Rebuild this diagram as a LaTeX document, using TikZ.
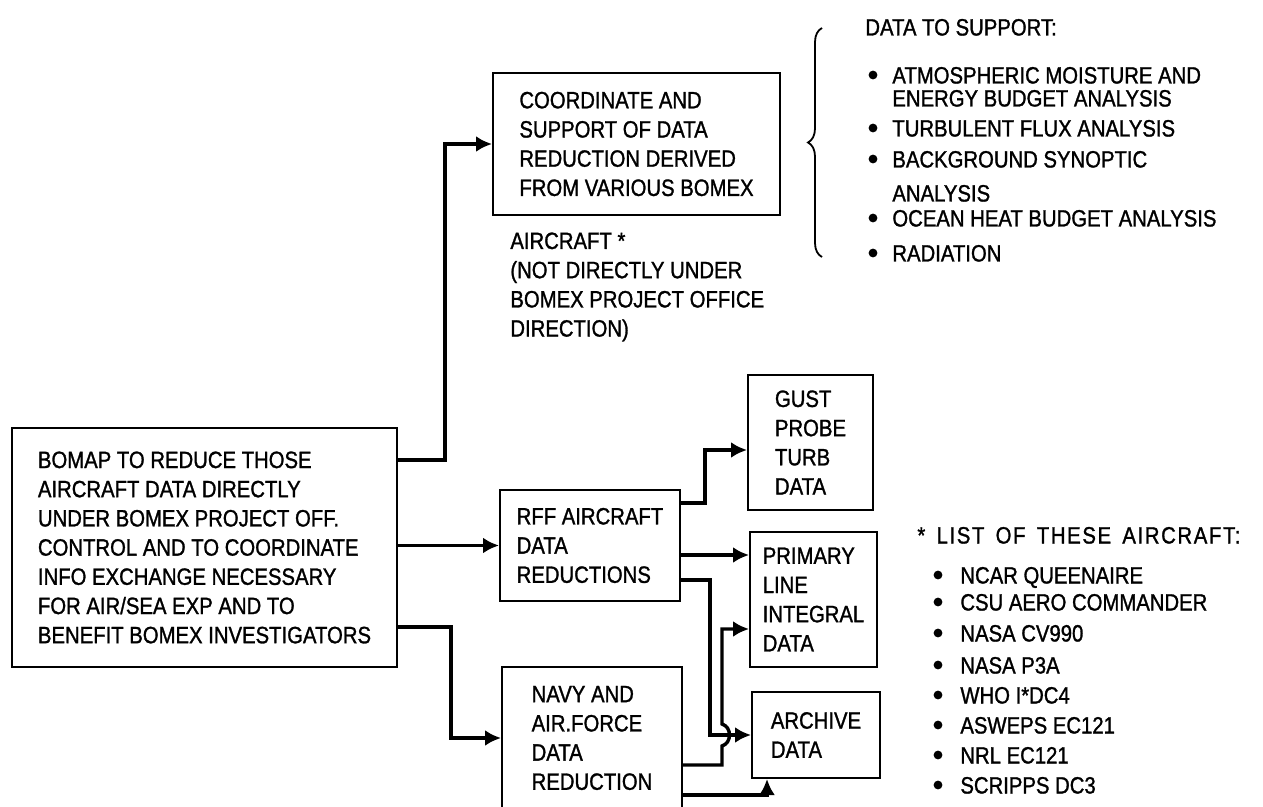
\documentclass[tikz,border=0pt]{standalone}
\usepackage{fontspec}
\setmainfont[FakeStretch=0.86, FakeBold=1.2]{Liberation Sans}
\usetikzlibrary{arrows.meta, decorations.pathreplacing}

\begin{document}
\begin{tikzpicture}[x=0.5pt, y=-0.5pt,
  every node/.style={font=\fontsize{11.8}{14.6}\selectfont, inner sep=0pt},
  blk/.style={draw, line width=1pt, align=left},
  boxsz/.style 2 args={minimum width={#1*0.5pt}, minimum height={#2*0.5pt}},
  lbl/.style={anchor=west, text height=8.5pt, text depth=0pt},
  arr/.style={line width=1.7pt, -{Latex[length=8pt,width=8pt]}}]

\useasboundingbox (0,0) rectangle (1263,807);

% --- Boxes ---
\node[blk, boxsz={385}{239}] (main) at (204.5,547.5)
  {BOMAP TO REDUCE THOSE\\AIRCRAFT DATA DIRECTLY\\UNDER BOMEX PROJECT OFF.\\CONTROL AND TO COORDINATE\\INFO EXCHANGE NECESSARY\\FOR AIR/SEA EXP AND TO\\BENEFIT BOMEX INVESTIGATORS};
\node[blk, boxsz={287}{142}] (coord) at (636.5,144)
  {COORDINATE AND\\SUPPORT OF DATA\\REDUCTION DERIVED\\FROM VARIOUS BOMEX};
\node[blk, boxsz={180}{111}] (rff) at (590,545.5)
  {RFF AIRCRAFT\\DATA\\REDUCTIONS};
\node[blk, boxsz={180}{142}] (navy) at (592,738)
  {NAVY AND\\AIR.FORCE\\DATA\\REDUCTION};
\node[blk, boxsz={125}{135}] (gust) at (810.5,442.5)
  {GUST\\PROBE\\TURB\\DATA};
\node[blk, boxsz={127}{135}] (prim) at (813.5,599.5)
  {PRIMARY\\LINE\\INTEGRAL\\DATA};
\node[blk, boxsz={128}{86}] (arch) at (816,735)
  {ARCHIVE\\DATA};

% note under the top box
\node[align=left, anchor=west] (note) at (510,287)
  {AIRCRAFT *\\(NOT DIRECTLY UNDER\\BOMEX PROJECT OFFICE\\DIRECTION)};

% --- Connectors ---
\draw[arr] (main.east |- 0,460) -| (445,144) -- (coord.west);
\draw[arr] (main.east |- rff.west) -- (rff.west);
\draw[arr] (main.east |- 0,627) -| (451,738) -- (navy.west);

\draw[arr] (rff.east |- 0,503) -| (705,450) -- (gust.west |- 0,450);
\draw[arr] (rff.east |- 0,555) -- (prim.west |- 0,555);
\draw[arr] (rff.east |- 0,580) -| (710,735) -- (arch.west);

% navy line hops over the rff line
\draw[arr] (navy.east |- 0,765) -- (722,765) -- (722,746)
  .. controls (732,743) and (732,727) .. (722,724) -- (722,629) -- (prim.west |- 0,629);
\draw[arr] (navy.east |- 0,795) -| (arch.south -| 767,0);

% --- Data to support ---
\draw[line width=0.9pt, decorate, decoration={brace, amplitude=7pt}] (822,257) -- (822,28);
\node[lbl] (suphead) at (865,27) {DATA TO SUPPORT:};
\foreach \yy/\txt [count=\i] in {
  75/ATMOSPHERIC MOISTURE AND,
  98/ENERGY BUDGET ANALYSIS,
  128/TURBULENT FLUX ANALYSIS,
  159/BACKGROUND SYNOPTIC,
  193/ANALYSIS,
  218/OCEAN HEAT BUDGET ANALYSIS,
  253/RADIATION}
  \node[lbl] (sup\i) at (892,\yy) {\txt};
\foreach \yy in {75,128,159,218,253}
  \fill (873,\yy) circle (2.2pt);

% --- List of aircraft ---
\node[lbl] (listhead) at (917,535)
  {\addfontfeature{LetterSpace=7}*\hspace{2pt} LIST\hspace{2pt} OF\hspace{2pt} THESE\hspace{2pt} AIRCRAFT:};
\foreach \yy/\txt [count=\i] in {
  575/NCAR QUEENAIRE,
  602/CSU AERO COMMANDER,
  633/NASA CV990,
  665/NASA P3A,
  695/WHO I*DC4,
  725/ASWEPS EC121,
  755/NRL EC121,
  785/SCRIPPS DC3}
  \node[lbl] (ac\i) at (960,\yy) {\txt};
\foreach \yy in {575,602,633,665,695,725,755,785}
  \fill (938,\yy) circle (2.2pt);

\end{tikzpicture}
\end{document}
